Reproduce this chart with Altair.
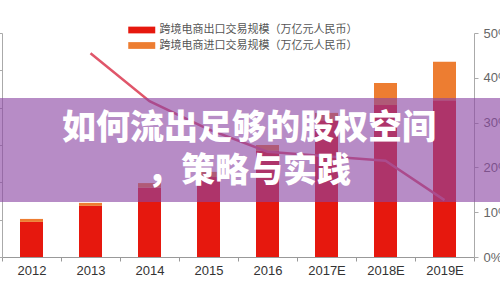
import altair as alt
import pandas as pd

years = ["2012", "2013", "2014", "2015", "2016", "2017E", "2018E", "2019E"]
export_vals = [1.88, 2.74, 3.72, 4.28, 5.70, 7.32, 8.14, 8.40]
import_vals = [0.16, 0.16, 0.24, 0.28, 0.30, 0.40, 1.18, 2.06]
growth_years = ["2013", "2014", "2015", "2016", "2017E", "2018E", "2019E"]
growth_vals = [45.5, 34.8, 28.5, 23.5, 22.5, 21.5, 12.7]
series = ["跨境电商出口交易规模（万亿元人民币）", "跨境电商进口交易规模（万亿元人民币）"]
left_ticks = [0, 2, 4, 6, 8, 10, 12]
right_ticks = [0, 10, 20, 30, 40, 50]
title_lines = ["如何流出足够的股权空间", "，策略与实践"]

bar_df = pd.DataFrame({
    "year": years * 2,
    "series": [series[0]] * len(years) + [series[1]] * len(years),
    "value": export_vals + import_vals,
    "ord": [0] * len(years) + [1] * len(years),
})
line_df = pd.DataFrame({"year": growth_years, "growth": growth_vals})

narrow = "Liberation Sans Narrow, Arial Narrow, Liberation Sans, sans-serif"
cjk = "Noto Sans CJK SC"

x_enc = alt.X(
    "year:N", sort=years,
    scale=alt.Scale(paddingInner=0, paddingOuter=0),
    axis=alt.Axis(title=None, labelAngle=0, tickBand="extent", tickSize=4,
                  labelFont=narrow, labelFontSize=13, labelColor="#333",
                  labelPadding=3, domainColor="#999", tickColor="#999", grid=False),
)

bars = alt.Chart(bar_df).mark_bar(size=23).encode(
    x=x_enc,
    y=alt.Y("value:Q", stack="zero",
            scale=alt.Scale(domain=[0, 12], nice=False),
            axis=alt.Axis(values=left_ticks, labels=False, title=None, tickSize=3,
                          grid=False, domainColor="#aaa", tickColor="#aaa")),
    color=alt.Color("series:N",
                    scale=alt.Scale(domain=series, range=["#e6180e", "#ed7d31"]),
                    legend=alt.Legend(orient="none", legendX=132.75, legendY=-10, title=None,
                                      symbolType="M-2,-0.5L2,-0.5L2,0.5L-2,0.5Z",
                                      symbolSize=182.25, symbolStrokeWidth=0, symbolOpacity=1,
                                      labelFont=cjk, labelFontSize=11, labelColor="#555",
                                      labelLimit=400, labelOffset=10.75, rowPadding=3.5,
                                      padding=0)),
    order=alt.Order("ord:Q"),
)

line = alt.Chart(line_df).mark_line(color="#e0566a", strokeWidth=2.5).encode(
    x=alt.X("year:N", sort=years),
    y=alt.Y("growth:Q", scale=alt.Scale(domain=[0, 50], nice=False),
            axis=alt.Axis(orient="right", values=right_ticks, labelExpr="datum.value + '%'",
                          title=None, grid=False, tickSize=4, labelPadding=5,
                          labelFont=narrow, labelFontSize=13, labelColor="#666",
                          domainColor="#aaa", tickColor="#aaa")),
)

overlay = alt.Chart(pd.DataFrame({"k": [0]})).mark_rect(color="#8a45a3", opacity=0.62).encode(
    x=alt.value(-2), x2=alt.value(498), y=alt.value(65), y2=alt.value(169)
)

title = alt.Chart(pd.DataFrame({"k": [0]})).mark_text(
    text=title_lines, font=cjk, fontSize=34, fontWeight=900, color="white",
    lineHeight=43, align="center", baseline="middle"
).encode(x=alt.value(247), y=alt.value(96))

chart = alt.layer(bars, line, overlay, title).resolve_scale(y="independent").properties(
    width=472, height=224,
    padding={"left": 2, "top": 33, "right": 26, "bottom": 43},
    autosize=alt.AutoSizeParams(type="none"),
    background="white",
).configure_view(stroke=None)

chart.save("out.html", embed_options={"renderer": "svg", "actions": False})
